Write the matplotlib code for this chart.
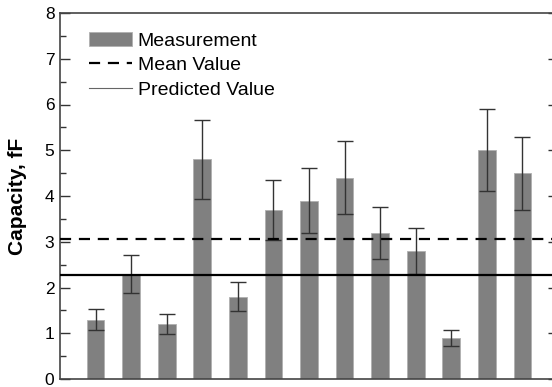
import numpy as np
import matplotlib
matplotlib.use("Agg")
import matplotlib.pyplot as plt

# measured capacity per sample, with error half-widths
samples = np.arange(1, 14)
capacity = [1.3, 2.3, 1.2, 4.8, 1.8, 3.7, 3.9, 4.4, 3.2, 2.8, 0.9, 5.0, 4.5]
errors = [0.23, 0.42, 0.22, 0.87, 0.32, 0.66, 0.71, 0.8, 0.57, 0.5, 0.17, 0.9, 0.8]
mean_value = 3.05
predicted_value = 2.28

plt.rcParams["font.family"] = ["Liberation Sans", "DejaVu Sans"]

W, H = 552, 387
fig = plt.figure(figsize=(W / 100, H / 100), dpi=100)
# axes box in pixels: left 60, right 558 (runs past the edge), bottom 379, top 13
ax = fig.add_axes([60 / W, (H - 379) / H, (558 - 60) / W, (379 - 13) / H])

bars = ax.bar(samples, capacity, width=0.5, color="#808080", edgecolor="#b0b0b0",
              linewidth=0.6, zorder=2)
ax.errorbar(samples, capacity, yerr=errors, fmt="none", ecolor="#333333",
            elinewidth=1.0, capsize=5.5, capthick=1.0, zorder=3)
mean_line = ax.axhline(mean_value, color="black", linestyle=(0, (5, 3.5)),
                       linewidth=1.6, zorder=4)
ax.axhline(predicted_value, color="black", linewidth=1.6, zorder=4)
# thin handle for the legend entry of the predicted value
pred_handle, = ax.plot([], [], color="#666666", linewidth=0.8)

ax.set_xlim(0, 14)
ax.set_ylim(0, 8)
ax.set_xticks([])
ax.set_yticks(range(0, 9))
ax.set_yticks(np.arange(0.5, 8, 1), minor=True)
ax.tick_params(axis="y", which="major", direction="in", length=7, width=1,
               right=True, labelsize=12.5, pad=4, color="#333333")
ax.tick_params(axis="y", which="minor", direction="in", length=4, width=1,
               right=True, color="#333333")
for s in ax.spines.values():
    s.set_color("#444444")
    s.set_linewidth(1.2)

ax.set_ylabel("Capacity, fF", fontsize=15, fontweight="bold", labelpad=13)

ax.legend([bars, mean_line, pred_handle],
          ["Measurement", "Mean Value", "Predicted Value"],
          loc="upper left", bbox_to_anchor=(29 / 498, 1 - 19 / 366),
          frameon=False, fontsize=14, handlelength=2.2, handleheight=0.75,
          labelspacing=0.33, handletextpad=0.3, borderpad=0, borderaxespad=0)

fig.savefig("out.png", dpi=100)
